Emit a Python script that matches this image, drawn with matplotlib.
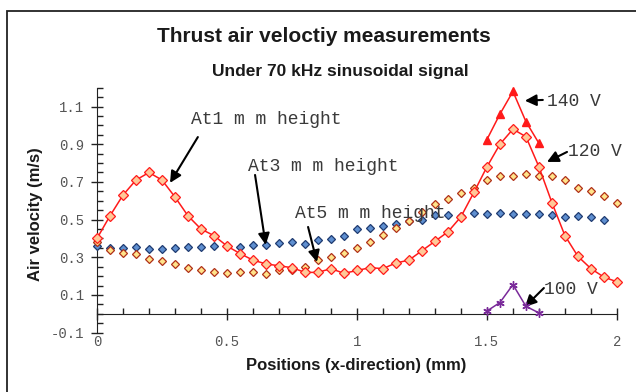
import matplotlib
matplotlib.use('Agg')
import matplotlib.pyplot as plt
from matplotlib.patches import Rectangle
from matplotlib.ticker import FixedLocator, MultipleLocator

# vi tri do (mm)
positions = [0.00, 0.05, 0.10, 0.15, 0.20, 0.25, 0.30, 0.35, 0.40, 0.45,
             0.50, 0.55, 0.60, 0.65, 0.70, 0.75, 0.80, 0.85, 0.90, 0.95,
             1.00, 1.05, 1.10, 1.15, 1.20, 1.25, 1.30, 1.35, 1.40, 1.45,
             1.50, 1.55, 1.60, 1.65, 1.70, 1.75, 1.80, 1.85, 1.90, 1.95,
             2.00]

# 120 V, at 1 mm height
vel_1mm = [0.40, 0.52, 0.63, 0.71, 0.75, 0.71, 0.62, 0.52, 0.45, 0.415,
           0.36, 0.32, 0.285, 0.265, 0.255, 0.245, 0.22, 0.22, 0.24, 0.215,
           0.23, 0.245, 0.24, 0.27, 0.285, 0.335, 0.385, 0.435, 0.515, 0.645,
           0.78, 0.90, 0.98, 0.94, 0.78, 0.59, 0.415, 0.305, 0.24, 0.195,
           0.17]

# at 3 mm height (x = 0 .. 1.95)
vel_3mm = [0.36, 0.35, 0.35, 0.355, 0.345, 0.345, 0.35, 0.355, 0.355, 0.36,
           0.36, 0.355, 0.365, 0.365, 0.375, 0.38, 0.37, 0.39, 0.395, 0.415,
           0.45, 0.455, 0.465, 0.475, 0.49, 0.50, 0.525, 0.525, 0.52, 0.535,
           0.53, 0.535, 0.53, 0.53, 0.53, 0.525, 0.515, 0.52, 0.515, 0.50]

# at 5 mm height
vel_5mm = [0.38, 0.34, 0.325, 0.32, 0.29, 0.28, 0.265, 0.245, 0.23, 0.22,
           0.215, 0.22, 0.22, 0.21, 0.23, 0.235, 0.25, 0.285, 0.30, 0.325,
           0.35, 0.38, 0.42, 0.455, 0.495, 0.54, 0.585, 0.61, 0.64, 0.67,
           0.71, 0.73, 0.73, 0.74, 0.73, 0.73, 0.71, 0.67, 0.65, 0.625,
           0.59]

# peak region at 140 V and 100 V
pos_peak = [1.50, 1.55, 1.60, 1.65, 1.70]
vel_140v = [0.925, 1.06, 1.18, 1.02, 0.905]
vel_100v = [0.015, 0.06, 0.155, 0.04, 0.005]

x_ticks = [0, 0.5, 1, 1.5, 2]
x_tick_labels = ['0', '0.5', '1', '1.5', '2']
y_ticks = [-0.1, 0.1, 0.3, 0.5, 0.7, 0.9, 1.1]
y_tick_labels = ['-0.1', '0.1', '0.3', '0.5', '0.7', '0.9', '1.1']

mono = 'Liberation Mono'
sans = 'Liberation Sans'
txt_gray = '#3a3a3a'

fig = plt.figure(figsize=(6.36, 3.92), dpi=100)
ax = fig.add_axes([0.1525, 0.1513, 0.8175, 0.625])

# Ve cac chuoi du lieu
ax.plot(positions[:len(vel_3mm)], vel_3mm, linestyle='none', marker='D', ms=3.6,
        mfc='#5f8fd0', mec='#1f3b70', mew=0.9, clip_on=False, zorder=3)
ax.plot(positions, vel_5mm, linestyle='none', marker='D', ms=3.6,
        mfc='#ffe38a', mec='#b03018', mew=0.9, clip_on=False, zorder=3)
ax.plot(positions, vel_1mm, color='#ff1a1a', lw=1.1, marker='D', ms=4.8,
        mfc='#ffc898', mec='#ff1a1a', mew=0.9, clip_on=False, zorder=4)
ax.plot(pos_peak, vel_140v, color='#ff1a1a', lw=1.1, marker='^', ms=6,
        mfc='#ff1a1a', mec='#ff1a1a', clip_on=False, zorder=4)
ax.plot(pos_peak, vel_100v, color='#7a2a9a', lw=1.1, marker=(6, 2, 0), ms=6,
        mec='#7a2a9a', mew=1.0, clip_on=False, zorder=4)

ax.set_xlim(0, 2)
ax.set_ylim(-0.1, 1.2)

# Truc
for s in ['top', 'right']:
    ax.spines[s].set_visible(False)
ax.spines['bottom'].set_position(('data', 0))
ax.spines['left'].set_color('#222222')
ax.spines['bottom'].set_color('#222222')

ax.xaxis.set_major_locator(FixedLocator(x_ticks))
ax.xaxis.set_minor_locator(MultipleLocator(0.1))
ax.tick_params(axis='x', which='major', direction='inout', length=9, width=1,
               labelbottom=False, color='#222222')
ax.tick_params(axis='x', which='minor', direction='in', length=4, width=1,
               color='#222222')

ax.yaxis.set_major_locator(FixedLocator(y_ticks))
ax.yaxis.set_minor_locator(MultipleLocator(0.05))
ax.set_yticklabels(y_tick_labels, fontfamily=mono, fontsize=10, color='#555555')
ax.tick_params(axis='y', which='major', direction='inout', length=9, width=1,
               pad=5, color='#222222')
ax.tick_params(axis='y', which='minor', direction='in', length=4, width=1,
               color='#222222')

# Nhan truc x o phia duoi
sec = ax.secondary_xaxis('bottom')
sec.set_xticks(x_ticks)
sec.set_xticklabels(x_tick_labels, fontfamily=mono, fontsize=10, color='#555555')
sec.tick_params(length=0, pad=2)
sec.spines['bottom'].set_visible(False)

# Tieu de
fig.text(0.510, 0.907, 'Thrust air veloctiy measurements', ha='center',
         va='center', fontfamily=sans, fontweight='bold', fontsize=15,
         color='#1a1a1a')
fig.text(0.535, 0.818, 'Under 70 kHz sinusoidal signal', ha='center',
         va='center', fontfamily=sans, fontweight='bold', fontsize=12.5,
         color='#1a1a1a')
fig.text(0.056, 0.454, 'Air velocity (m/s)', rotation=90, ha='center',
         va='center', fontfamily=sans, fontweight='bold', fontsize=12,
         color='#1a1a1a')
fig.text(0.5605, 0.068, 'Positions (x-direction) (mm)', ha='center',
         va='center', fontfamily=sans, fontweight='bold', fontsize=12,
         color='#1a1a1a')

# Chu thich voi mui ten
arrow = dict(arrowstyle='-|>', color='black', lw=1.5, mutation_scale=17,
             shrinkA=0, shrinkB=0)
arrows = [
    ((0.281, 0.695), (0.388, 0.938)),
    ((0.649, 0.366), (0.608, 0.737)),
    ((0.846, 0.275), (0.812, 0.461)),
    ((1.646, 1.131), (1.715, 1.135)),
    ((1.731, 0.806), (1.808, 0.859)),
    ((1.646, 0.037), (1.719, 0.137)),
]
for head, tail in arrows:
    ax.annotate('', xy=head, xytext=tail, arrowprops=arrow, annotation_clip=False)

labels = [
    (0.362, 1.031, 'At1 m m height', 13),
    (0.581, 0.782, 'At3 m m height', 13),
    (0.762, 0.533, 'At5 m m height', 13),
    (1.731, 1.127, '140 V', 13),
    (1.812, 0.862, '120 V', 13),
    (1.719, 0.127, '100 V', 13),
]
for x, y, s, fs in labels:
    ax.text(x, y, s, ha='left', va='center', fontfamily=mono, fontsize=fs,
            color=txt_gray, clip_on=False)

# Khung ngoai
fig.patches.append(Rectangle((7 / 636, -0.05), 1.0, (392 - 11) / 392 + 0.05,
                             transform=fig.transFigure, fill=False,
                             edgecolor='#222222', lw=1.3))

fig.savefig('out.png', dpi=100)
